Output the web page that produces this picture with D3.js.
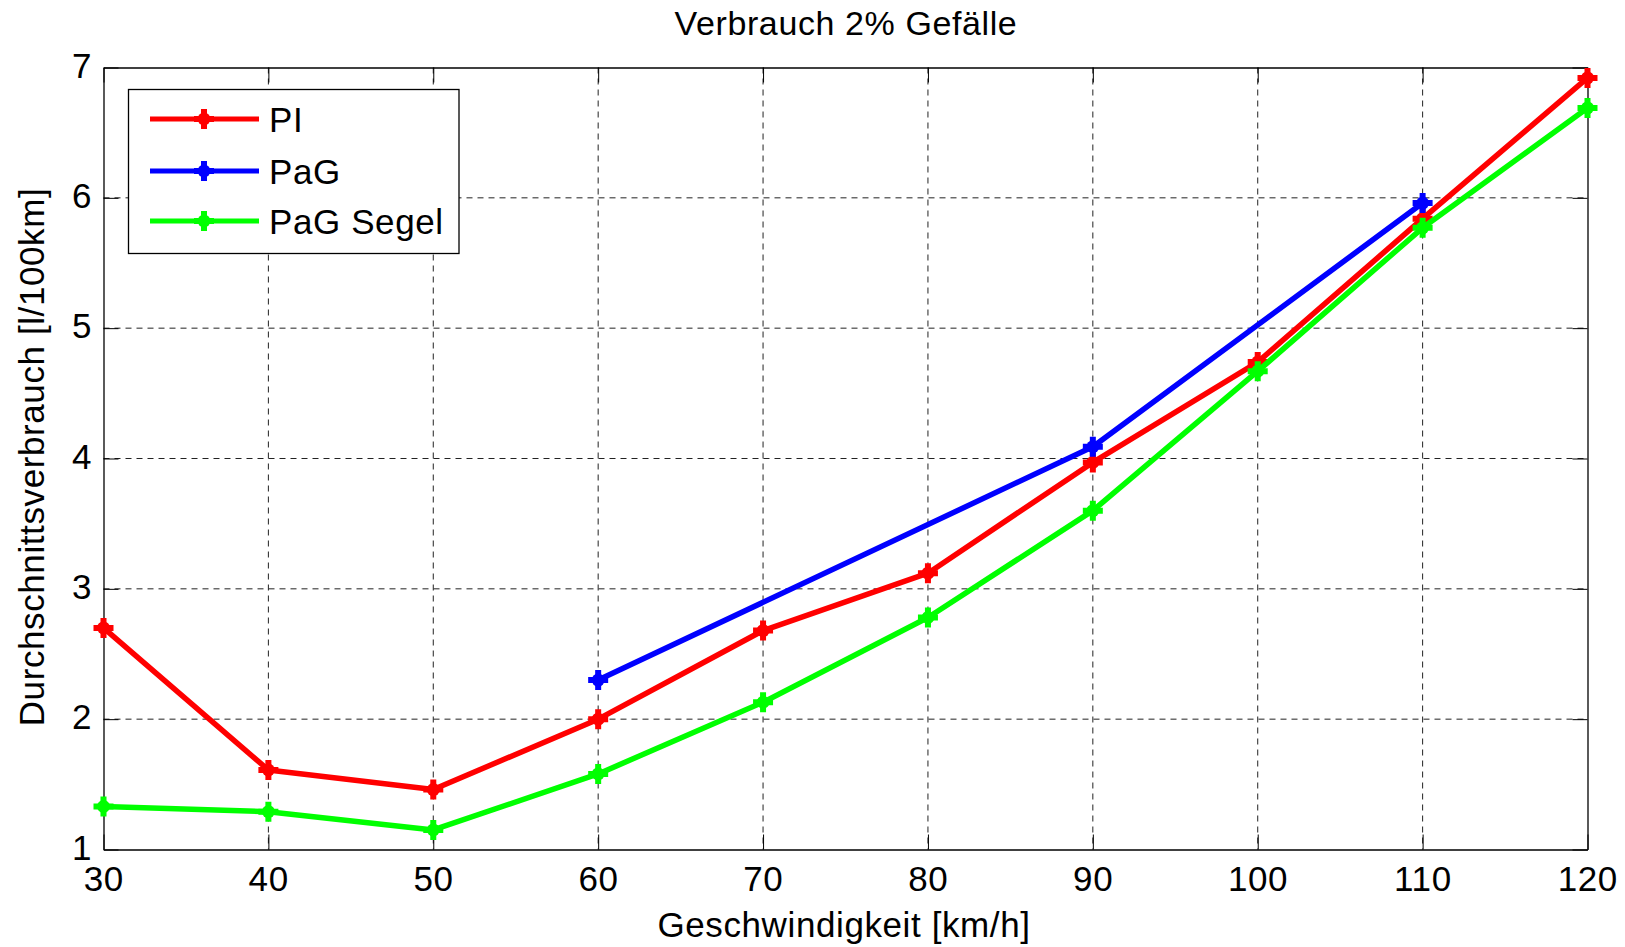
<!DOCTYPE html>
<html>
<head>
<meta charset="utf-8">
<script src="https://cdn.jsdelivr.net/npm/d3@7"></script>
<style>
  html, body { margin: 0; padding: 0; background: #fff; }
  svg { display: block; }
  text { font-family: "Liberation Sans", Arial, Helvetica, sans-serif; fill: #000; }
</style>
</head>
<body>
<svg id="chart" width="1625" height="947"></svg>
<script>
// Fahrgeschwindigkeit in km/h
const speeds = [30, 40, 50, 60, 70, 80, 90, 100, 110, 120];
// Durchschnittsverbrauch in l/100km je Regelstrategie (null = nicht gemessen)
const verbrauchPI = [2.70, 1.61, 1.46, 2.00, 2.68, 3.12, 3.97, 4.74, 5.84, 6.92];
const verbrauchPaG = [null, null, null, 2.30, null, null, 4.09, null, 5.96, null];
const verbrauchPaGSegel = [1.33, 1.29, 1.15, 1.58, 2.13, 2.78, 3.60, 4.67, 5.77, 6.69];

const seriesNames = ["PI", "PaG", "PaG Segel"];
const seriesColors = ["#ff0000", "#0000ff", "#00ff00"];
const xTicks = [30, 40, 50, 60, 70, 80, 90, 100, 110, 120];
const yTicks = [1, 2, 3, 4, 5, 6, 7];

const titleText = "Verbrauch 2% Gefälle";
const xLabelText = "Geschwindigkeit [km/h]";
const yLabelText = "Durchschnittsverbrauch [l/100km]";

const series = [verbrauchPI, verbrauchPaG, verbrauchPaGSegel].map((vals, i) => ({
  name: seriesNames[i],
  color: seriesColors[i],
  points: speeds.map((s, j) => ({ x: s, y: vals[j] }))
}));

const svg = d3.select("#chart");
const plot = { left: 103.5, right: 1587.5, top: 67.5, bottom: 849.5 };
const fontSize = 35, spacing = 0.6;

const x = d3.scaleLinear().domain([30, 120]).range([plot.left, plot.right]);
const y = d3.scaleLinear().domain([1, 7]).range([plot.bottom, plot.top]);

// dashed grid
const grid = svg.append("g");
grid.selectAll("line.gx").data(xTicks.slice(1, -1)).join("line")
  .attr("x1", d => x(d)).attr("x2", d => x(d))
  .attr("y1", plot.top).attr("y2", plot.bottom)
  .attr("stroke", "#222").attr("stroke-width", 1).attr("stroke-dasharray", "6,5");
grid.selectAll("line.gy").data(yTicks.slice(1, -1)).join("line")
  .attr("x1", plot.left).attr("x2", plot.right)
  .attr("y1", d => y(d)).attr("y2", d => y(d))
  .attr("stroke", "#222").attr("stroke-width", 1).attr("stroke-dasharray", "6,5");

// axes (inward ticks on all four sides)
const tickLen = 15;
const axisStyle = g => {
  g.select(".domain").attr("stroke", "#000").attr("stroke-width", 1.3);
  g.selectAll(".tick line").attr("stroke", "#000").attr("stroke-width", 1);
};
svg.append("g").attr("transform", `translate(0,${plot.bottom})`)
  .call(d3.axisBottom(x).tickValues(xTicks).tickSize(-tickLen).tickSizeOuter(0).tickFormat(""))
  .call(axisStyle);
svg.append("g").attr("transform", `translate(0,${plot.top})`)
  .call(d3.axisTop(x).tickValues(xTicks).tickSize(-tickLen).tickSizeOuter(0).tickFormat(""))
  .call(axisStyle);
svg.append("g").attr("transform", `translate(${plot.left},0)`)
  .call(d3.axisLeft(y).tickValues(yTicks).tickSize(-tickLen).tickSizeOuter(0).tickFormat(""))
  .call(axisStyle);
svg.append("g").attr("transform", `translate(${plot.right},0)`)
  .call(d3.axisRight(y).tickValues(yTicks).tickSize(-tickLen).tickSizeOuter(0).tickFormat(""))
  .call(axisStyle);

// tick labels
svg.append("g").selectAll("text").data(xTicks).join("text")
  .attr("x", d => x(d) + spacing / 2).attr("y", 891)
  .attr("text-anchor", "middle")
  .style("font-size", fontSize + "px").style("letter-spacing", spacing + "px")
  .text(d => d);
svg.append("g").selectAll("text").data(yTicks).join("text")
  .attr("x", 92).attr("y", d => y(d) + 10)
  .attr("text-anchor", "end")
  .style("font-size", fontSize + "px").style("letter-spacing", spacing + "px")
  .text(d => d);

// title and axis labels
svg.append("text").attr("x", 846).attr("y", 35).attr("text-anchor", "middle")
  .style("font-size", (fontSize - 1) + "px").style("letter-spacing", spacing + "px").text(titleText);
svg.append("text").attr("x", 844).attr("y", 937).attr("text-anchor", "middle")
  .style("font-size", fontSize + "px").style("letter-spacing", spacing + "px").text(xLabelText);
svg.append("text").attr("transform", "translate(44,457) rotate(-90)").attr("text-anchor", "middle")
  .style("font-size", fontSize + "px").style("letter-spacing", spacing + "px").text(yLabelText);

// data lines and markers
const line = d3.line().defined(d => d.y != null).x(d => x(d.x)).y(d => y(d.y));
const markerPath = "M-10,0H10M0,-10V10";

function drawMarker(g, color) {
  g.append("circle").attr("r", 6.5).attr("fill", color);
  g.append("path").attr("d", markerPath).attr("stroke", color).attr("stroke-width", 6).attr("fill", "none");
}

const sg = svg.append("g").selectAll("g").data(series).join("g");
sg.append("path")
  .attr("d", d => line(d.points.filter(p => p.y != null)))
  .attr("fill", "none").attr("stroke", d => d.color).attr("stroke-width", 5.5)
  .attr("stroke-linejoin", "round");
sg.each(function (s) {
  d3.select(this).selectAll("g.m").data(s.points.filter(p => p.y != null)).join("g")
    .attr("class", "m")
    .attr("transform", p => `translate(${x(p.x)},${y(p.y)})`)
    .each(function () { drawMarker(d3.select(this), s.color); });
});

// legend
const legend = svg.append("g");
legend.append("rect").attr("x", 128.5).attr("y", 89.5).attr("width", 330.5).attr("height", 164)
  .attr("fill", "#fff").attr("stroke", "#000").attr("stroke-width", 1.3);
const rowY = [119, 171, 221];
series.forEach((s, i) => {
  const r = legend.append("g").attr("transform", `translate(0,${rowY[i]})`);
  r.append("line").attr("x1", 150).attr("x2", 259).attr("y1", 0).attr("y2", 0)
    .attr("stroke", s.color).attr("stroke-width", 5);
  drawMarker(r.append("g").attr("transform", "translate(204,0)"), s.color);
  r.append("text").attr("x", 269).attr("y", 12.5)
    .style("font-size", fontSize + "px").style("letter-spacing", spacing + "px").text(s.name);
});
</script>
</body>
</html>
